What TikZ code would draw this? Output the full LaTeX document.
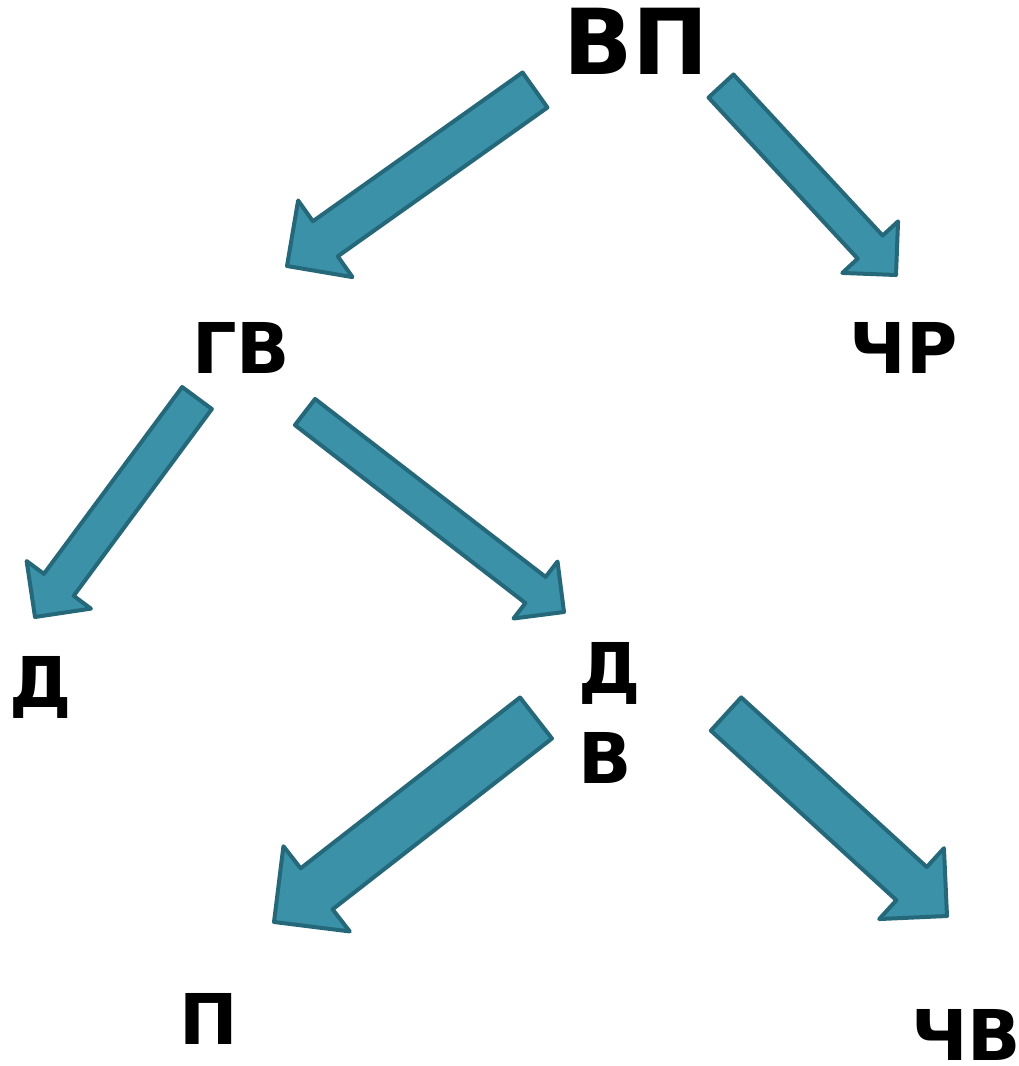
\documentclass[tikz,border=0pt]{standalone}
\usepackage{fontspec}
\setmainfont{DejaVu Sans}
\usetikzlibrary{calc}
\definecolor{arrowfill}{HTML}{3A91A8}
\definecolor{arrowline}{HTML}{25687A}
\newcommand{\blockarrow}[4]{%
	\coordinate (ab) at ($(#2)!#4!(#1)$);
	\draw[block arrow] ($(#1)!#3!90:(#2)$) -- ($(ab)!#3!90:(#2)$) -- ($(ab)!#4!90:(#2)$) -- (#2)
		-- ($(ab)!#4!-90:(#2)$) -- ($(ab)!#3!-90:(#2)$) -- ($(#1)!#3!-90:(#2)$) -- cycle;
}
\begin{document}
\begin{tikzpicture}[
						x=1pt,
						y=-1pt,
						every node/.style={inner sep=0pt},
						top label/.style={font=\fontsize{91}{100}\selectfont\bfseries},
						level label/.style={font=\fontsize{70}{90}\selectfont\bfseries},
						block arrow/.style={fill=arrowfill, draw=arrowline, line width=4pt, line join=round}
					]
					\useasboundingbox (0,0) rectangle (1019,1066);
					\node[top label, anchor=base] (vp) at (636,74) {ВП};
					\node[level label, anchor=base] (gv) at (241,373) {ГВ};
					\node[level label, anchor=base] (chr) at (903.5,373) {ЧР};
					\node[level label, anchor=base] (d) at (40.5,707) {Д};
					\node[level label, anchor=base west, align=left] (dv) at (578.5,783) {Д\\В};
					\node[level label, anchor=base] (p) at (208.5,1044) {П};
					\node[level label, anchor=base] (chv) at (966,1060) {ЧВ};
					\coordinate (vp-gv-tail) at (535,90);
					\coordinate (vp-gv-tip) at (287,266);
					\coordinate (vp-chr-tail) at (721,86);
					\coordinate (vp-chr-tip) at (896,275);
					\coordinate (gv-d-tail) at (197,398);
					\coordinate (gv-d-tip) at (35,617);
					\coordinate (gv-dv-tail) at (305,412);
					\coordinate (gv-dv-tip) at (564,612);
					\coordinate (dv-p-tail) at (536,718);
					\coordinate (dv-p-tip) at (274,922);
					\coordinate (dv-chv-tail) at (726,714);
					\coordinate (dv-chv-tip) at (947,916);
					\blockarrow{vp-gv-tail}{vp-gv-tip}{21.5pt}{47pt}
					\blockarrow{vp-chr-tail}{vp-chr-tip}{17pt}{38pt}
					\blockarrow{gv-d-tail}{gv-d-tip}{18.5pt}{40pt}
					\blockarrow{gv-dv-tail}{gv-dv-tip}{16.5pt}{36pt}
					\blockarrow{dv-p-tail}{dv-p-tip}{26pt}{54pt}
					\blockarrow{dv-chv-tail}{dv-chv-tip}{22.5pt}{48pt}
				\end{tikzpicture}
\end{document}
